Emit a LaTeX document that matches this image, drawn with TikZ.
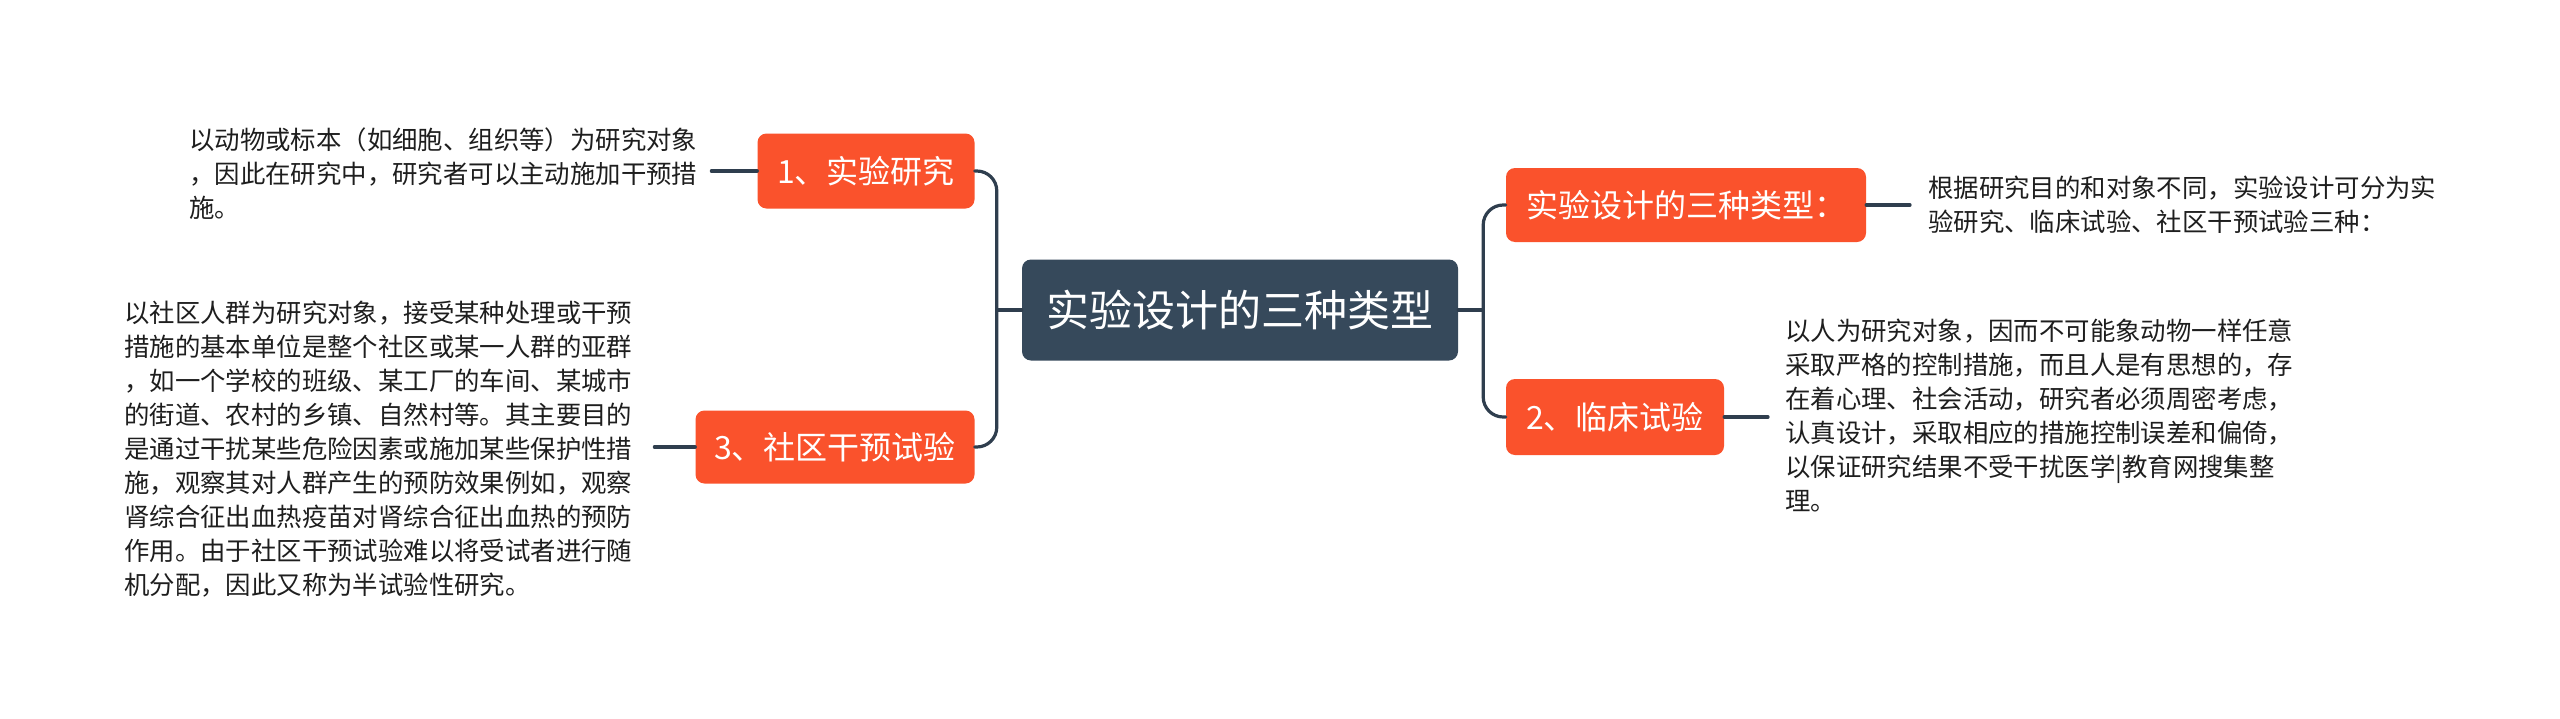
\documentclass[tikz,border=0pt]{standalone}
\usepackage{fontspec}
\setmainfont{Noto Sans CJK SC}
\usetikzlibrary{calc}
\definecolor{orangeN}{HTML}{FA522C}
\definecolor{darkN}{HTML}{36495B}
\definecolor{lineC}{HTML}{2F3E4E}
\definecolor{txtC}{HTML}{1E1E1E}
\tikzset{
  central/.style={fill=darkN, rounded corners=9pt, text=white, inner sep=0pt,
    font=\fontsize{43}{50}\selectfont},
  branch/.style={fill=orangeN, rounded corners=9pt, text=white, inner sep=0pt,
    font=\fontsize{32}{38}\selectfont},
  leaf/.style={inner sep=0pt, align=left, text=txtC, font=\fontsize{25.4}{34}\selectfont},
  conn/.style={draw=lineC, line width=3.2pt, line cap=round},
}
\begin{document}
\begin{tikzpicture}[x=1pt,y=-1pt]
\useasboundingbox[fill=white] (0,0) rectangle (2560,718);

\node[central, minimum width=436pt, minimum height=101pt] (c) at (1240,310) {实验设计的三种类型};

\node[branch, minimum width=217pt, minimum height=75pt] (n1) at (866,171) {1、实验研究};
\node[branch, minimum width=279pt, minimum height=73pt] (n3) at (835,447) {3、社区干预试验};
\node[branch, minimum width=360pt, minimum height=74pt] (r1) at (1686,205) {实验设计的三种类型：};
\node[branch, minimum width=218pt, minimum height=76pt] (r2) at (1615,417) {2、临床试验};

\node[leaf, anchor=west] (t1) at (189,174) {以动物或标本（如细胞、组织等）为研究对象\\，因此在研究中，研究者可以主动施加干预措\\施。};
\node[leaf, anchor=west] (t3) at (124,449) {以社区人群为研究对象，接受某种处理或干预\\措施的基本单位是整个社区或某一人群的亚群\\，如一个学校的班级、某工厂的车间、某城市\\的街道、农村的乡镇、自然村等。其主要目的\\是通过干扰某些危险因素或施加某些保护性措\\施，观察其对人群产生的预防效果例如，观察\\肾综合征出血热疫苗对肾综合征出血热的预防\\作用。由于社区干预试验难以将受试者进行随\\机分配，因此又称为半试验性研究。};
\node[leaf, anchor=west] (s1) at (1928,205) {根据研究目的和对象不同，实验设计可分为实\\验研究、临床试验、社区干预试验三种：};
\node[leaf, anchor=west] (s2) at (1785,415) {以人为研究对象，因而不可能象动物一样任意\\采取严格的控制措施，而且人是有思想的，存\\在着心理、社会活动，研究者必须周密考虑，\\认真设计，采取相应的措施控制误差和偏倚，\\以保证研究结果不受干扰医学|教育网搜集整\\理。};

\coordinate (jl) at ($(c.west)+(-25,0)$);
\coordinate (jr) at ($(c.east)+(25,0)$);

\draw[conn] (c.west) -- (jl);
\draw[conn] (c.east) -- (jr);
\draw[conn, rounded corners=20pt] (n1.east) -| (jl);
\draw[conn, rounded corners=20pt] (n3.east) -| (jl);
\draw[conn, rounded corners=20pt] (r1.west) -| (jr);
\draw[conn, rounded corners=20pt] (r2.west) -| (jr);

\draw[conn] (n1.west) -- ([xshift=14pt]t1.east |- n1.west);
\draw[conn] (n3.west) -- ([xshift=22pt]t3.east |- n3.west);
\draw[conn] (r1.east) -- ([xshift=-18pt]s1.west |- r1.east);
\draw[conn] (r2.east) -- ([xshift=-17pt]s2.west |- r2.east);
\end{tikzpicture}
\end{document}
